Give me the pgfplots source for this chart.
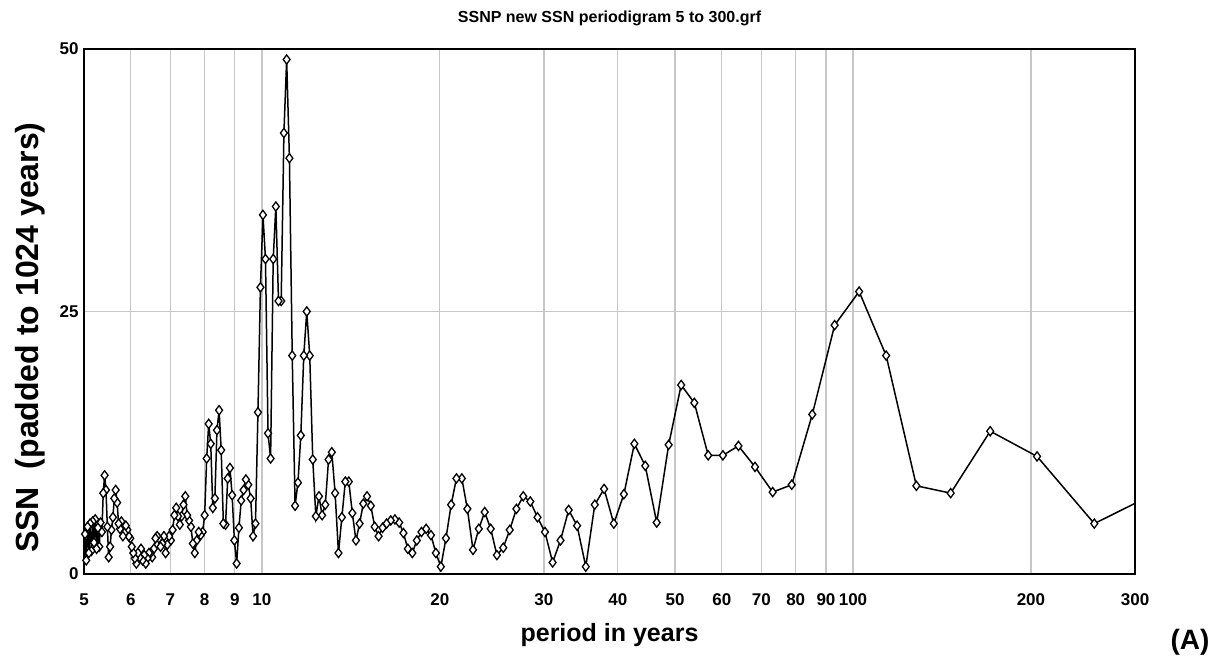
\documentclass[border=0pt]{standalone}
\usepackage{pgfplots}
\pgfplotsset{compat=1.18}
\usepackage{pgfplotstable}
\usepackage{fontspec}
\setmainfont{Liberation Sans}
\pgfplotstableread{
P v
341.333 8.3
256 4.8
204.8 11.2
170.667 13.6
146.286 7.7
128 8.4
113.778 20.8
102.4 26.9
93.091 23.7
85.333 15.2
78.769 8.5
73.143 7.8
68.267 10.2
64 12.2
60.235 11.3
56.889 11.3
53.895 16.3
51.2 18.0
48.762 12.3
46.545 4.9
44.522 10.3
42.667 12.4
40.96 7.6
39.385 4.8
37.926 8.1
36.571 6.6
35.310 0.7
34.133 4.6
33.032 6.1
32 3.2
31.030 1.1
30.118 4.0
29.257 5.4
28.444 6.9
27.676 7.4
26.947 6.2
26.256 4.2
25.6 2.5
24.976 1.8
24.381 4.3
23.814 5.9
23.273 4.3
22.756 2.3
22.261 6.2
21.787 9.1
21.333 9.1
20.898 6.6
20.48 3.4
20.078 0.7
19.692 2.0
19.321 3.7
18.963 4.3
18.618 4.0
18.286 3.2
17.965 2.0
17.655 2.4
17.356 3.9
17.067 4.9
16.787 5.2
16.516 5.1
16.254 4.8
16 4.4
15.754 3.6
15.515 4.5
15.284 6.5
15.059 7.4
14.841 6.7
14.629 4.8
14.423 3.2
14.222 5.8
14.027 8.8
13.838 8.8
13.653 5.4
13.474 2.0
13.299 7.7
13.128 11.6
12.962 10.9
12.8 6.6
12.642 5.6
12.488 7.4
12.337 5.5
12.190 10.9
12.047 20.8
11.907 25.0
11.770 20.8
11.636 13.2
11.506 8.7
11.378 6.5
11.253 20.8
11.130 39.6
11.011 49.0
10.894 42.0
10.779 26.0
10.667 26.0
10.557 35.0
10.449 30.0
10.343 11.0
10.24 13.4
10.139 30.0
10.039 34.2
9.942 27.3
9.846 15.4
9.752 4.8
9.660 3.6
9.570 7.2
9.481 8.5
9.394 9.0
9.309 8.0
9.225 7.0
9.143 4.4
9.062 1.0
8.982 3.2
8.904 7.5
8.828 10.1
8.752 9.1
8.678 4.7
8.605 4.8
8.533 11.8
8.463 15.6
8.393 13.7
8.325 7.2
8.258 6.3
8.192 12.4
8.127 14.3
8.063 11.0
8 5.6
7.938 4.0
7.877 3.7
7.817 4.0
7.758 3.2
7.699 2.0
7.642 2.9
7.585 4.5
7.529 5.1
7.474 5.6
7.420 7.4
7.367 6.6
7.314 5.5
7.262 4.7
7.211 5.5
7.161 6.3
7.111 5.6
7.062 4.2
7.014 3.2
6.966 3.6
6.919 2.8
6.872 2.0
6.827 3.6
6.781 2.9
6.737 2.6
6.693 3.4
6.649 3.6
6.606 3.4
6.564 2.4
6.522 1.6
6.481 2.0
6.440 2.0
6.4 1.5
6.360 1.0
6.321 1.8
6.282 1.3
6.244 2.4
6.206 1.6
6.169 2.0
6.132 1.0
6.095 1.5
6.059 2.0
6.024 2.6
5.988 3.4
5.953 3.6
5.919 4.2
5.885 4.6
5.851 3.9
5.818 3.6
5.785 5.0
5.753 4.3
5.721 4.8
5.689 6.8
5.657 8.0
5.626 7.2
5.596 5.4
5.565 4.2
5.535 2.6
5.505 1.6
5.476 4.5
5.447 8.0
5.418 9.4
5.389 7.7
5.361 4.0
5.333 4.9
5.306 2.6
5.278 4.4
5.251 2.4
5.224 5.2
5.198 3.0
5.172 5.0
5.146 2.2
5.12 4.8
5.095 2.0
5.069 4.5
5.044 1.3
5.020 3.8
}\ssn
\begin{document}
\begin{tikzpicture}
\useasboundingbox (-84pt,-89pt) rectangle (1130pt,574pt);
\begin{axis}[
  at={(0pt,0pt)}, anchor=south west,
  width=1051pt, height=525pt, scale only axis,
  xmode=log, xmin=5, xmax=300, ymin=0, ymax=50,
  xtick={5,6,7,8,9,10,20,30,40,50,60,70,80,90,100,200,300},
  xticklabels={5,6,7,8,9,10,20,30,40,50,60,70,80,90,100,200,300},
  ytick={0,25,50},
  minor xtick={}, minor ytick={},
  major tick length=0pt,
  xmajorgrids, ymajorgrids,
  grid style={draw=black!22, line width=1.2pt},
  axis line style={line width=2.6pt},
  clip=true,
  /pgf/number format/assume math mode=true,
  ticklabel style={font=\fontsize{17}{20}\selectfont\bfseries},
  xticklabel style={yshift=-16pt},
  yticklabel style={xshift=-2pt},
  xlabel={period in years},
  xlabel style={font=\fontsize{25}{30}\selectfont\bfseries, yshift=-11pt},
  ylabel={SSN\ \ (padded to 1024 years)},
  ylabel style={font=\fontsize{32}{37}\selectfont\bfseries, xshift=-26pt, yshift=8pt},
  title={SSNP new SSN periodigram 5 to 300.grf},
  title style={font=\fontsize{16}{19}\selectfont\bfseries, yshift=14pt},
]
\addplot[black, line width=1.5pt, mark=diamond*, mark size=4.6pt,
  mark options={fill=white, draw=black, line width=1.3pt}] table[x=P, y=v] {\ssn};
\end{axis}
\node[font=\fontsize{28}{32}\selectfont\bfseries, anchor=east] at (1129pt,-68pt) {(A)};
\end{tikzpicture}
\end{document}
